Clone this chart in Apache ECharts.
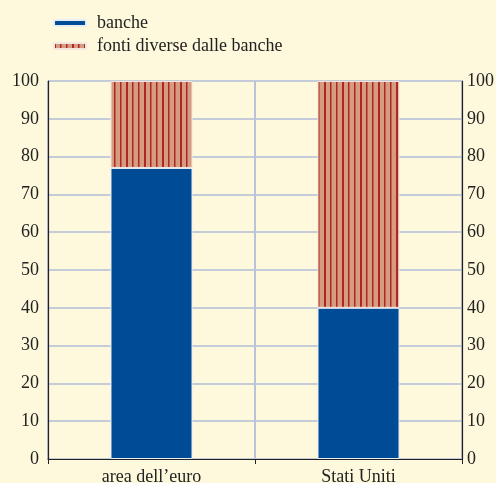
<!DOCTYPE html>
<html><head><meta charset="utf-8">
<script src="https://cdn.jsdelivr.net/npm/echarts@6/dist/echarts.min.js"></script>
<style>html,body{margin:0;padding:0;background:#fef9dc;}#c{width:496px;height:483px;}</style>
</head><body><div id="c"></div>
<script>
const categories = ['area dell\u2019euro', 'Stati Uniti'];
const banche = [77, 40];
const fontiDiverse = [23, 60];
const yTicks = [0, 10, 20, 30, 40, 50, 60, 70, 80, 90, 100];

function makePattern() {
  const cv = document.createElement('canvas');
  cv.width = 18; cv.height = 10;
  const ctx = cv.getContext('2d');
  ctx.fillStyle = '#d69c82';
  ctx.fillRect(0, 0, 18, 10);
  ctx.fillStyle = '#ad2822';
  ctx.fillRect(0, 0, 2, 10);
  ctx.fillRect(6, 0, 1.5, 10);
  ctx.fillRect(12, 0, 1.5, 10);
  return cv;
}
const pat = makePattern();
const font = 'Liberation Serif';
const chart = echarts.init(document.getElementById('c'));
chart.setOption({
  backgroundColor: '#fef9dc',
  animation: false,
  textStyle: { fontFamily: font },
  legend: {
    orient: 'vertical', left: 48, top: 9, itemWidth: 32, itemHeight: 6, itemGap: 5,
    textStyle: { fontFamily: font, fontSize: 18, color: '#222', padding: [0, 0, 0, 6] },
    data: ['banche', 'fonti diverse dalle banche']
  },
  grid: { left: 48, right: 34, top: 81, bottom: 24, outerBoundsMode: 'none', containLabel: false },
  xAxis: {
    type: 'category', data: categories, offset: 3,
    axisLine: { lineStyle: { color: '#222', width: 1.2 } },
    axisTick: { show: true, length: 5, lineStyle: { color: '#222' } },
    axisLabel: { fontFamily: font, fontSize: 18, color: '#222', margin: 6 },
    splitLine: { show: true, lineStyle: { color: '#b9c3dc', width: 2 } }
  },
  yAxis: [{
    type: 'value', min: 0, max: 100, interval: 10,
    axisLine: { show: true, lineStyle: { color: '#222', width: 1.2 } },
    axisTick: { show: false },
    axisLabel: { fontFamily: font, fontSize: 18, color: '#222', margin: 9,
      formatter: v => yTicks.includes(v) ? String(v) : '' },
    splitLine: { lineStyle: { color: '#b2bcd8', width: 1.5 } }
  }, {
    type: 'value', min: 0, max: 100, interval: 10, position: 'right',
    axisLine: { show: true, lineStyle: { color: '#222', width: 1.2 } },
    axisTick: { show: false },
    axisLabel: { fontFamily: font, fontSize: 18, color: '#222', margin: 5 },
    splitLine: { show: false }
  }],
  series: [{
    name: 'banche', type: 'bar', stack: 's', data: banche, barWidth: 82,
    itemStyle: { color: '#004b96', borderColor: '#e8ecf4', borderWidth: 1 }
  }, {
    name: 'fonti diverse dalle banche', type: 'bar', stack: 's', data: fontiDiverse, barWidth: 82,
    itemStyle: { color: { image: pat, repeat: 'repeat' }, borderColor: '#f4e6dc', borderWidth: 1 }
  }]
});
</script></body></html>
